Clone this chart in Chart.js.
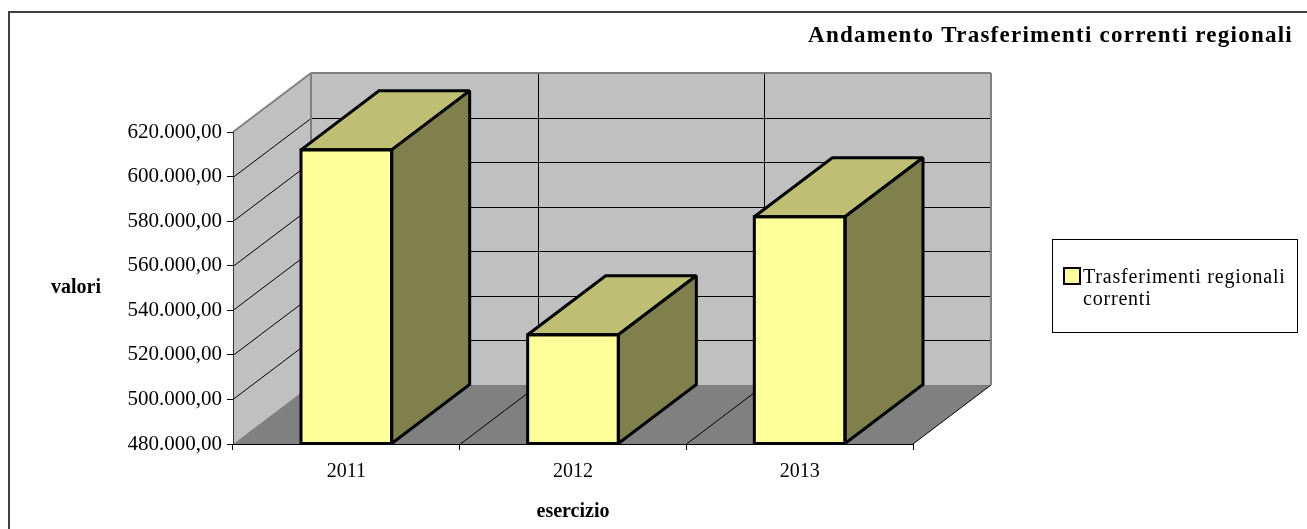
<!DOCTYPE html>
<html>
<head>
<meta charset="utf-8">
<title>Andamento Trasferimenti correnti regionali</title>
<script src="https://cdn.jsdelivr.net/npm/chart.js@4/dist/chart.umd.min.js"></script>
<style>
  html, body { margin: 0; padding: 0; background: #fff; }
  canvas { display: block; }
</style>
</head>
<body>
<canvas id="grafico" width="1307" height="529"></canvas>
<script>
// dati
var anni = ['2011', '2012', '2013'];
var valori = [612000, 529000, 582000];
var nomeSerie = 'Trasferimenti regionali correnti';
var titolo = 'Andamento Trasferimenti correnti regionali';
var asseMin = 480000;
var asseMax = 620000;
var passo = 20000;

var FONT = "'Liberation Serif', 'Times New Roman', serif";
var DX = 78, DY = -59; // profondita' dello sfondo 3D

function formatta(v) {
    var s = Math.round(v).toString().replace(/\B(?=(\d{3})+(?!\d))/g, '.');
    return s + ',00';
}

function poligono(ctx, punti) {
    ctx.beginPath();
    ctx.moveTo(punti[0][0], punti[0][1]);
    for (var i = 1; i < punti.length; i++) ctx.lineTo(punti[i][0], punti[i][1]);
    ctx.closePath();
}

function linea(ctx, x1, y1, x2, y2) {
    ctx.beginPath();
    ctx.moveTo(x1, y1);
    ctx.lineTo(x2, y2);
    ctx.stroke();
}

// pareti, pavimento e griglia
var sfondo3d = {
    id: 'sfondo3d',
    beforeDraw: function(chart) {
        var ctx = chart.ctx, a = chart.chartArea;
        var L = a.left, R = a.right, T = a.top, B = a.bottom;
        var ys = chart.scales.y, xs = chart.scales.x;
        ctx.save();
        ctx.fillStyle = '#C0C0C0';
        poligono(ctx, [[L, T], [L + DX, T + DY], [L + DX, B + DY], [L, B]]);
        ctx.fill();
        ctx.fillRect(L + DX, T + DY, R - L, B - T);
        ctx.fillStyle = '#808080';
        poligono(ctx, [[L, B], [L + DX, B + DY], [R + DX, B + DY], [R, B]]);
        ctx.fill();

        ctx.strokeStyle = '#000';
        ctx.lineWidth = 1;
        ys.ticks.forEach(function(t) {
            if (t.value <= ys.min || t.value >= ys.max) return;
            var y = Math.round(ys.getPixelForValue(t.value)) + 0.5;
            linea(ctx, L, y, L + DX, y + DY);
            linea(ctx, L + DX, y + DY, R + DX, y + DY);
        });
        for (var i = 1; i < anni.length; i++) {
            var x = Math.round((xs.getPixelForValue(i - 1) + xs.getPixelForValue(i)) / 2) + 0.5;
            linea(ctx, x, B, x + DX, B + DY);
            linea(ctx, x + DX, T + DY, x + DX, B + DY);
        }
        linea(ctx, R, B, R + DX, B + DY);

        ctx.strokeStyle = '#808080';
        ctx.lineWidth = 2;
        linea(ctx, L, T, L + DX, T + DY);
        linea(ctx, L + DX, T + DY, R + DX, T + DY);
        linea(ctx, L + DX, T + DY, L + DX, B + DY);
        linea(ctx, R + DX, T + DY, R + DX, B + DY);
        ctx.restore();
    },
    afterDatasetsDraw: function(chart) {
        var ctx = chart.ctx;
        var meta = chart.getDatasetMeta(0);
        var fondo = chart.chartArea.bottom;
        ctx.save();
        ctx.strokeStyle = '#000';
        ctx.lineWidth = 3;
        ctx.lineJoin = 'miter';
        ctx.miterLimit = 2;
        meta.data.forEach(function(bar) {
            var p = bar.getProps(['x', 'y', 'base', 'width'], true);
            var base = Math.min(p.base, fondo);
            var l = p.x - p.width / 2, r = p.x + p.width / 2;
            ctx.fillStyle = '#BFBF73';
            poligono(ctx, [[l, p.y], [l + DX, p.y + DY], [r + DX, p.y + DY], [r, p.y]]);
            ctx.fill();
            ctx.stroke();
            ctx.fillStyle = '#80804D';
            poligono(ctx, [[r, p.y], [r + DX, p.y + DY], [r + DX, base + DY], [r, base]]);
            ctx.fill();
            ctx.stroke();
            ctx.strokeRect(l, p.y, p.width, base - p.y);
        });
        ctx.restore();
    },
    afterDraw: function(chart) {
        var ctx = chart.ctx;
        ctx.save();
        // cornice
        ctx.strokeStyle = '#404040';
        ctx.lineWidth = 2;
        ctx.beginPath();
        ctx.moveTo(9, 529);
        ctx.lineTo(9, 12);
        ctx.lineTo(1307, 12);
        ctx.stroke();

        ctx.fillStyle = '#000';
        // titolo
        ctx.font = 'bold 23px ' + FONT;
        ctx.textAlign = 'right';
        ctx.textBaseline = 'alphabetic';
        ctx.letterSpacing = '1.25px';
        ctx.fillText(titolo, 1293, 42);
        ctx.letterSpacing = '0px';

        // titolo asse y
        ctx.font = 'bold 20px ' + FONT;
        ctx.textAlign = 'center';
        ctx.textBaseline = 'middle';
        ctx.fillText('valori', 76, 288);

        // legenda
        ctx.strokeStyle = '#000';
        ctx.lineWidth = 1;
        ctx.strokeRect(1052.5, 239.5, 245, 93);
        ctx.fillStyle = '#FFFF99';
        ctx.fillRect(1064, 268, 16, 16);
        ctx.lineWidth = 2;
        ctx.strokeRect(1064, 268, 16, 16);
        ctx.fillStyle = '#000';
        ctx.font = '20px ' + FONT;
        ctx.textAlign = 'left';
        ctx.textBaseline = 'alphabetic';
        ctx.letterSpacing = '0.8px';
        var parole = nomeSerie.split(' ');
        ctx.fillText(parole.slice(0, 2).join(' '), 1083, 283);
        ctx.fillText(parole.slice(2).join(' '), 1083, 305);
        ctx.restore();
    }
};

Chart.defaults.font.family = FONT;
Chart.defaults.color = '#000';

new Chart(document.getElementById('grafico').getContext('2d'), {
    type: 'bar',
    data: {
        labels: anni,
        datasets: [{
            label: nomeSerie,
            data: valori,
            base: asseMin,
            backgroundColor: '#FFFF99',
            borderColor: '#000',
            borderWidth: 0,
            categoryPercentage: 1,
            barPercentage: 0.4
        }]
    },
    options: {
        responsive: false,
        animation: false,
        layout: { padding: { top: 132, right: 394, bottom: 0, left: 0 } },
        plugins: {
            legend: { display: false },
            title: { display: false },
            tooltip: { enabled: false }
        },
        scales: {
            x: {
                afterFit: function(scale) { scale.height = 85; },
                grid: { offset: true, drawOnChartArea: false, drawTicks: true, tickLength: 6, color: '#000' },
                border: { display: true, color: '#000', width: 1 },
                ticks: { padding: 10, font: { size: 20 }, color: '#000' },
                title: { display: true, text: 'esercizio', font: { size: 20, weight: 'bold' }, color: '#000', padding: { top: 0, bottom: 5 } }
            },
            y: {
                min: asseMin,
                max: asseMax,
                afterFit: function(scale) { scale.width = 233; },
                grid: { drawOnChartArea: false, drawTicks: true, tickLength: 6, color: '#000' },
                border: { display: true, color: '#333', width: 1 },
                ticks: {
                    stepSize: passo,
                    padding: 5,
                    font: { size: 21 },
                    color: '#000',
                    callback: function(v) { return formatta(v); }
                }
            }
        }
    },
    plugins: [sfondo3d]
});
</script>
</body>
</html>
